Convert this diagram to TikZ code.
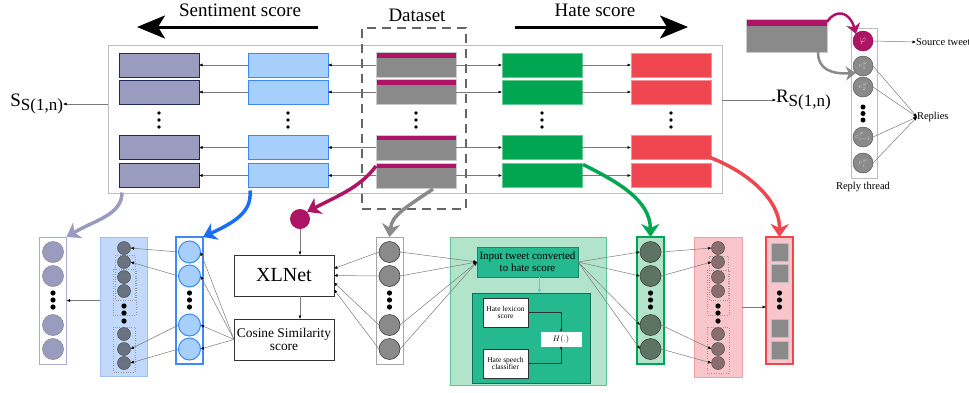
\documentclass[tikz,border=0pt]{standalone}
\usepackage{fontspec}
\setmainfont{Liberation Serif}
\usetikzlibrary{arrows.meta,calc}
\definecolor{navy}{HTML}{1F2A5C}
\definecolor{pgray}{HTML}{9A9CBF}
\definecolor{lpurp}{HTML}{A9ABD0}
\definecolor{lblue}{HTML}{A6CFFB}
\definecolor{mblue}{HTML}{3D8AF7}
\definecolor{bblue}{HTML}{1A6EF5}
\definecolor{shblue}{HTML}{C2D9FC}
\definecolor{shblueb}{HTML}{A0C0F5}
\definecolor{dgray}{HTML}{8A8A8A}
\definecolor{mag}{HTML}{AE1466}
\definecolor{hgreen}{HTML}{00A651}
\definecolor{hred}{HTML}{EF4650}
\definecolor{lgreen}{HTML}{B2E4CC}
\definecolor{lgreenb}{HTML}{5CC596}
\definecolor{tgreen}{HTML}{24B98F}
\definecolor{tgreenb}{HTML}{168A66}
\definecolor{cgreen}{HTML}{5D7464}
\definecolor{lpink}{HTML}{F8C6CA}
\definecolor{lpinkb}{HTML}{F0A0A6}
\definecolor{cbrown}{HTML}{8A6D6E}
\definecolor{cblue}{HTML}{6B7380}
\definecolor{boxgray}{HTML}{BDBDBD}
\definecolor{dashgray}{HTML}{666666}
\definecolor{linegray}{HTML}{7A7A7A}
\definecolor{clabel}{HTML}{D2D2D2}
\begin{document}
\begin{tikzpicture}[x=1pt,y=-1pt,
  every node/.style={inner sep=0pt, outer sep=0pt},
  sarr/.style={draw=linegray, line width=0.5pt, -{Latex[length=3.5pt,width=3pt,color=black]}},
  bigarr/.style={line width=3.5pt, -{Stealth[length=13pt,width=18pt,inset=4pt]}},
  smallbig/.style={line width=2.5pt, -{Stealth[length=10pt,width=14pt,inset=3pt]}},
  scorearr/.style={line width=3pt, -{Stealth[length=28pt,width=23pt,inset=7pt]}},
  rowbox/.style={rectangle, minimum width=80pt, minimum height=24pt},
  dsrow/.style={rectangle, fill=dgray, draw=boxgray!80, line width=0.8pt,
     path picture={\fill[mag] (path picture bounding box.north west) rectangle ([yshift=-#1]path picture bounding box.north east);}},
  frame/.style={rectangle, minimum width=27pt, minimum height=127pt, line width=1pt},
  bigcirc/.style={circle, minimum size=21pt, line width=0.6pt},
  smallcirc/.style={circle, minimum size=13pt, line width=0.5pt, draw=black!70},
  dotrect/.style={draw=gray!80, dotted, line width=0.4pt},
  txt/.style={font=\fontsize{#1}{#1}\selectfont},
  whitebox/.style={rectangle, draw=black!80, fill=white, line width=0.6pt, align=center}
]
\useasboundingbox (0,0) rectangle (969,392);

% ---------- top score labels ----------
\node[txt=19] (sent) at (240,10) {Sentiment score};
\node[txt=19] (hate) at (595,10) {Hate score};
\node[txt=19] (dlab) at (417,15) {Dataset};
\coordinate (sL) at (137,27); \coordinate (sR) at (318,27);
\coordinate (hL) at (515,27); \coordinate (hR) at (688,27);
\draw[scorearr] (sR) -- (sL);
\draw[scorearr] (hL) -- (hR);

% ---------- top box ----------
\node[rectangle, draw=boxgray, line width=1pt, minimum width=614pt, minimum height=148pt] (top) at (415,119) {};
\foreach \i/\y in {1/65,2/92,3/147.5,4/175.5}{
  \node[rowbox, fill=pgray, draw=navy, line width=1pt] (a\i) at (159,\y) {};
  \node[rowbox, fill=lblue, draw=mblue, line width=1pt] (b\i) at (288,\y) {};
  \node[rowbox, minimum height=25pt, dsrow=5pt] (d\i) at (416,\y) {};
  \node[rowbox, fill=hgreen, draw=hgreen!60, line width=0.8pt] (g\i) at (542,\y) {};
  \node[rowbox, fill=hred, draw=hred!60, line width=0.8pt] (h\i) at (671,\y) {};
  \draw[sarr] (b\i.west) -- (a\i.east);
  \draw[sarr] (d\i.west) -- (b\i.east);
  \draw[sarr] (d\i.east) -- (g\i.west);
  \draw[sarr] (g\i.east) -- (h\i.west);
}
\foreach \x in {159,288,416,542,671}{
  \foreach \y in {113,120,127}{ \fill (\x,\y) circle (1.8pt); }
}
\node[rectangle, draw=dashgray, line width=2.5pt, dash pattern=on 9pt off 6pt, minimum width=104pt, minimum height=181pt] (dset) at (414,118.5) {};

\node[anchor=east] (S) at (63,104) {\fontsize{19}{19}\selectfont S\raisebox{-4pt}{\fontsize{17}{17}\selectfont S(1,n)}};
\draw[sarr] (top.west |- S) -- (S.east);
\node[anchor=west] (R) at (776,100) {\fontsize{19}{19}\selectfont R\raisebox{-4pt}{\fontsize{17}{17}\selectfont S(1,n)}};
\draw[sarr] (top.east |- R) -- (R.west);

% ---------- reply thread (top right) ----------
\node[rectangle, minimum width=81pt, minimum height=33pt, dsrow=7pt] (tw) at (786.5,35.5) {};
\node[rectangle, draw=boxgray, line width=1pt, minimum width=26pt, minimum height=150pt] (rt) at (864,103) {};
\node[circle, fill=mag, draw=mag!80!black, line width=0.5pt, minimum size=20pt, text=pink, txt=10] (phi) at (863,41) {$\varphi$};
\foreach \i/\y/\l in {1/66/1,2/87/2,3/137/{i-1},4/163/i}{
  \node[circle, fill=dgray, draw=black!65, line width=0.5pt, minimum size=20pt, text=clabel, txt=7] (cc\i) at (863,\y) {$c_{\l}^{\varphi}$};
}
\foreach \y in {107,113.5,120}{ \fill (863,\y) circle (2.5pt); }
\node[anchor=west, txt=10.5] (src) at (916,42) {Source tweet};
\node[anchor=west, txt=10.5] (rep) at (917,117) {Replies};
\node[txt=10.5] (rtl) at (863,187) {Reply thread};
\draw[sarr] (phi.east) -- (src.west);
\foreach \i in {1,2,3,4}{ \draw[sarr] (cc\i.east) -- (rep.west); }

% ---------- bottom: sentiment side ----------
\node[frame, draw=lpurp, fill=white] (A) at (53,300.5) {};
\node[rectangle, fill=shblue, draw=shblueb, line width=0.8pt, minimum width=47pt, minimum height=139pt] (B) at (123.5,306.5) {};
\node[frame, draw=mblue, line width=1.6pt, fill=white] (C) at (189.5,300.5) {};
\foreach \i/\y in {1/252,2/276,3/325,4/349}{
  \node[bigcirc, fill=pgray, draw=black!45] (A\i) at (53,\y) {};
  \node[bigcirc, minimum size=22pt, fill=lblue, draw=mblue, line width=1pt] (C\i) at (189.5,\y) {};
}
\foreach \y in {293,300,307}{ \fill (53,\y) circle (2.6pt); \fill (189.5,\y) circle (2.6pt); }
\draw[dotrect] (115,255) rectangle (135,300);
\draw[dotrect] (113,269) rectangle (136,315);
\draw[dotrect] (113,327) rectangle (135,372);
\foreach \i/\y in {1/248,2/262,3/277,4/291,5/334,6/349,7/363}{
  \node[smallcirc, fill=cblue] (B\i) at (124,\y) {};
}
\foreach \y in {306,313,321}{ \fill (124,\y) circle (2.6pt); }
\draw[sarr] (B.west |- A.east) -- (A.east);
\draw[sarr] (C1.west) -- (B1.east);
\draw[sarr] (C2.west) -- (B2.east);
\draw[sarr] (C3.west) -- (B6.east);
\draw[sarr] (C4.west) -- (B7.east);

% XLNet and cosine
\node[circle, fill=mag, minimum size=20pt] (mdot) at (300,219) {};
\node[whitebox, minimum width=100pt, minimum height=41pt, txt=20] (xl) at (284,275.5) {XLNet};
\node[whitebox, minimum width=100pt, minimum height=41pt, txt=13.4] (cos) at (284,339.5) {Cosine Similarity\\score};
\draw[sarr] (mdot.south) -- (xl.north -| mdot);
\draw[sarr] (xl.south -| mdot) -- (cos.north -| mdot);
\foreach \i in {1,2,3,4}{ \draw[sarr] (cos.west) -- (C\i.east); }

% dataset column
\node[frame, draw=gray!70, fill=white] (D) at (389.5,300.5) {};
\foreach \i/\y in {1/252,2/276,3/325,4/349}{
  \node[bigcirc, fill=dgray, draw=black!75] (D\i) at (389.5,\y) {};
}
\foreach \y in {293,300,307}{ \fill (389.5,\y) circle (2.6pt); }
\draw[sarr] (D1.west) -- ([yshift=7pt]xl.east);
\draw[sarr] (D2.west) -- (xl.east);
\draw[sarr] (D3.west) -- ([yshift=-7pt]xl.east);
\draw[sarr] (D4.west) -- ([yshift=-14pt]xl.east);

% ---------- hate side ----------
\node[rectangle, fill=lgreen, draw=lgreenb, line width=0.8pt, minimum width=156pt, minimum height=148pt] (G) at (528,311) {};
\node[rectangle, fill=tgreen, draw=tgreenb, line width=0.6pt, minimum width=101pt, minimum height=30pt, align=center, txt=11] (in) at (527.5,262) {Input tweet converted\\[1pt]to hate score};
\node[rectangle, fill=tgreen, draw=tgreenb!80!black, line width=0.6pt, minimum width=118pt, minimum height=90pt] (inner) at (531,338) {};
\draw[draw=tgreen!70!white, line width=0.8pt, -{Latex[length=4pt,width=4pt]}] ([xshift=12pt]in.south) -- ([xshift=12pt]in.south |- inner.north);
\node[whitebox, minimum width=45pt, minimum height=29pt, txt=7.5] (lex) at (505.5,312.5) {Hate lexicon\\score};
\node[whitebox, minimum width=45pt, minimum height=29pt, txt=7.5] (cls) at (505.5,363.5) {Hate speech\\classifier};
\node[whitebox, draw=white, minimum width=40pt, minimum height=14pt, txt=8] (H) at (561,339) {$H(.)$};
\draw[draw=black!80, line width=0.6pt, -{Latex[length=3pt,width=3pt]}] (lex.east) -| (H.north);
\draw[draw=black!80, line width=0.6pt, -{Latex[length=3pt,width=3pt]}] (cls.east) -| (H.south);
\foreach \i in {1,2,3,4}{ \draw[sarr] (D\i.east) -- (in.west); }

\node[frame, fill=lgreen, draw=hgreen, line width=1.6pt] (E) at (650.5,300.5) {};
\foreach \i/\y in {1/252,2/276,3/325,4/349}{
  \node[bigcirc, fill=cgreen, draw=black!75] (E\i) at (650.5,\y) {};
}
\foreach \y in {293,300,307}{ \fill (650.5,\y) circle (2.6pt); }
\foreach \i in {1,2,3,4}{ \draw[sarr] (in.east) -- (E\i.west); }

\node[rectangle, fill=lpink, draw=lpinkb, line width=0.8pt, minimum width=48pt, minimum height=140pt] (F) at (718,307) {};
\draw[dotrect] (709,256) rectangle (728,300);
\draw[dotrect] (707,270) rectangle (729,315);
\draw[dotrect] (707,327) rectangle (729,373);
\foreach \i/\y in {1/248,2/262,3/277,4/291,5/334,6/349,7/363}{
  \node[smallcirc, fill=cbrown] (F\i) at (718,\y) {};
}
\foreach \y in {306,313,321}{ \fill (718,\y) circle (2.6pt); }
\draw[sarr] (E1.east) -- (F1.west);
\draw[sarr] (E2.east) -- (F2.west);
\draw[sarr] (E3.east) -- (F6.west);
\draw[sarr] (E4.east) -- (F7.west);

\node[frame, fill=lpink, draw=hred, line width=1.6pt] (Gr) at (779.5,300.5) {};
\foreach \i/\y in {1/252,2/273,3/328,4/350}{
  \node[rectangle, fill=dgray, draw=boxgray, line width=0.5pt, minimum width=17pt, minimum height=18pt] (Q\i) at (779.5,\y) {};
}
\foreach \y in {293,300,307}{ \fill (779.5,\y) circle (2.6pt); }
\draw[sarr] (F.east) -- (F.east -| Gr.west);

% ---------- thick curved arrows ----------
\draw[bigarr, pgray] ($(a4.south west)+(3,5)$) .. controls (122,215) and (95,220) .. (A.north east);
\draw[bigarr, bblue] ($(b4.south west)+(2,3)$) .. controls (252,212) and (235,222) .. (C.north east);
\draw[bigarr, mag] ($(d4.north west)+(0,3)$) .. controls (360,188) and (335,197) .. (mdot.north east);
\draw[bigarr, dgray] ($(d4.south east)+(-23,1)$) .. controls (405,208) and (392,215) .. (D.north);
\draw[bigarr, hgreen] ($(g4.north east)+(1,1)$) .. controls (618,182) and (650,200) .. (E.north);
\draw[bigarr, hred] ($(h3.south east)+(-1,-2)$) .. controls (748,172) and (780,200) .. (Gr.north);
\draw[smallbig, mag] ($(tw.north east)+(0,3)$) .. controls (836,8) and (850,12) .. (phi.north west);
\draw[smallbig, dgray] ($(tw.south east)+(-9,0)$) .. controls (818,70) and (832,74) .. (cc1.south west);
\end{tikzpicture}
\end{document}
